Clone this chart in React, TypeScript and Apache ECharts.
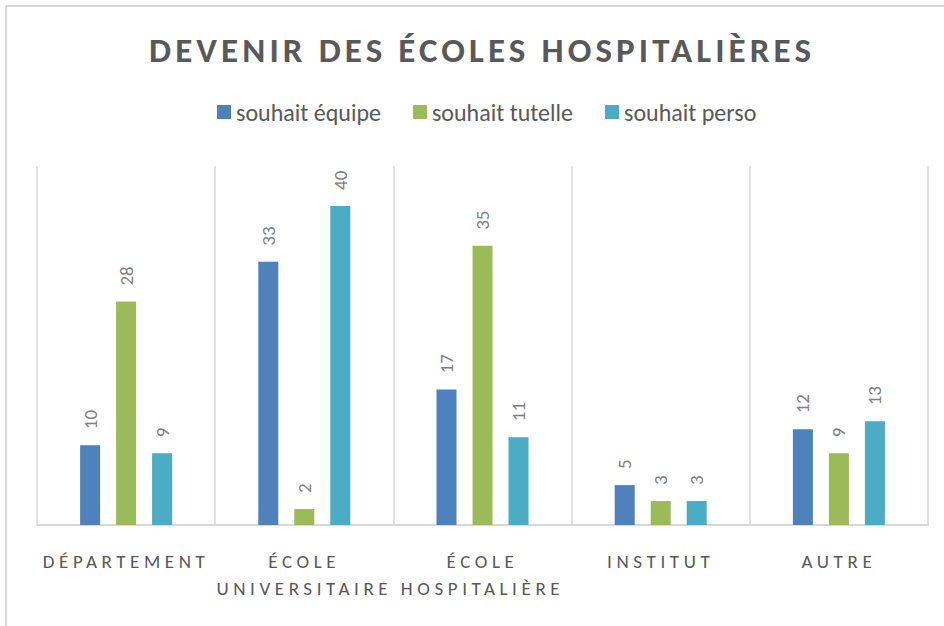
import React, { useEffect, useRef } from "react";
import * as echarts from "echarts";

const categories = ["DÉPARTEMENT", "ÉCOLE\nUNIVERSITAIRE", "ÉCOLE\nHOSPITALIÈRE", "INSTITUT", "AUTRE"];
const seriesNames = ["souhait équipe", "souhait tutelle", "souhait perso"];
const equipe = [10, 33, 17, 5, 12];
const tutelle = [28, 2, 35, 3, 9];
const perso = [9, 40, 11, 3, 13];
const colors = ["#4F81BD", "#9BBB59", "#4BACC6"];
const titleText = "DEVENIR DES ÉCOLES HOSPITALIÈRES";

const FONT = "Carlito, Lato, sans-serif";

export default function App() {
  const ref = useRef<HTMLDivElement>(null);
  useEffect(() => {
    if (!ref.current) return;
    const chart = echarts.init(ref.current, undefined, { renderer: "svg" });
    const values = [equipe, tutelle, perso];
    chart.setOption({
      animation: false,
      backgroundColor: "#ffffff",
      color: colors,
      legend: {
        top: 100,
        left: 217,
        itemWidth: 14,
        itemHeight: 14,
        itemGap: 32,
        padding: 0,
        icon: "rect",
        textStyle: { fontFamily: FONT, fontSize: 24, color: "#595959" },
        data: seriesNames,
      },
      graphic: [
        {
          type: "polyline",
          shape: { points: [[6, 1000], [6, 6], [1000, 6]] },
          style: { stroke: "#d9d9d9", lineWidth: 2, fill: "none" },
          silent: true,
        },
        {
          type: "text",
          x: 482,
          y: 49.5,
          silent: true,
          style: {
            text: titleText,
            align: "center",
            verticalAlign: "middle",
            fontFamily: FONT,
            fontSize: 35,
            fontWeight: "bold",
            fill: "#595959",
          },
        },
      ],
      grid: { left: 37, right: 16, top: 166, bottom: 101, containLabel: false },
      xAxis: {
        type: "category",
        data: categories,
        axisLine: { lineStyle: { color: "#d9d9d9", width: 2 } },
        axisTick: { show: false },
        splitLine: { show: true, interval: 0, lineStyle: { color: "#d9d9d9", width: 1.5 } },
        axisLabel: {
          interval: 0,
          margin: 23,
          fontFamily: FONT,
          fontSize: 19,
          color: "#595959",
          lineHeight: 27,
        },
      },
      yAxis: { type: "value", min: 0, max: 45, show: false, splitLine: { show: false } },
      series: seriesNames.map((name, i) => ({
        name,
        type: "bar",
        data: values[i],
        barWidth: 20,
        barGap: "80%",
        itemStyle: { color: colors[i] },
        label: {
          show: true,
          position: "top",
          rotate: 90,
          align: "left",
          verticalAlign: "middle",
          distance: 16,
          fontFamily: FONT,
          fontSize: 19,
          color: "#7f7f7f",
        },
      })),
    });
    const spaced: Record<string, string> = {
      [titleText]: "4.1",
      "DÉPARTEMENT": "4.6",
      "ÉCOLE": "4.6",
      "UNIVERSITAIRE": "4.6",
      "HOSPITALIÈRE": "4.6",
      "INSTITUT": "4.6",
      "AUTRE": "4.6",
    };
    ref.current.querySelectorAll("text").forEach((t) => {
      const s = (t.textContent || "").trim();
      if (spaced[s]) t.setAttribute("letter-spacing", spaced[s]);
    });
    return () => chart.dispose();
  }, []);
  return (
    <div
      ref={ref}
      style={{ position: "fixed", left: 0, top: 0, width: 944, height: 626 }}
    />
  );
}
